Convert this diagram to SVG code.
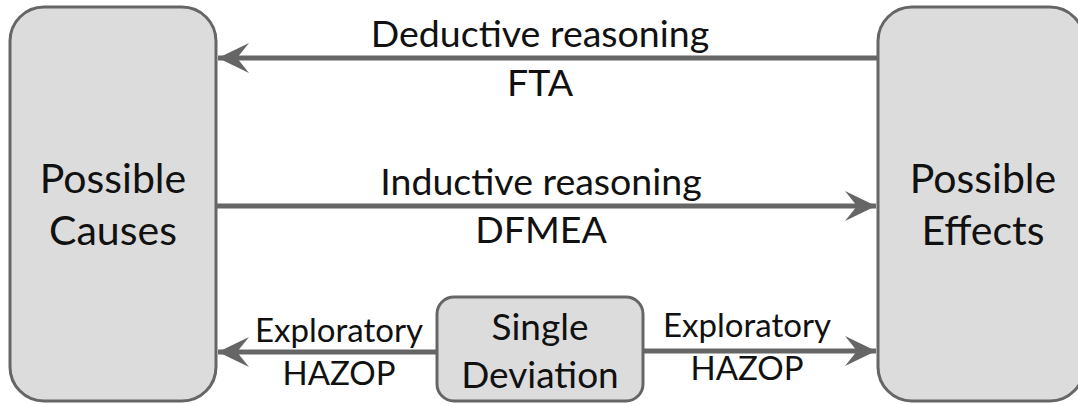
<svg xmlns="http://www.w3.org/2000/svg" width="1078" height="404" viewBox="0 0 1078 404">
  <style>
    .box { fill: #dcdcdc; stroke: #666666; stroke-width: 3; }
    .lbl { font-family: Lato, "Open Sans", "Liberation Sans", sans-serif; fill: #111111; text-anchor: middle; }
    .big { font-size: 41px; }
    .dev { font-size: 37px; }
    .mid { font-size: 37.5px; }
    .sm { font-size: 33px; }
    .edge { stroke: #666666; stroke-width: 5; fill: none; }
  </style>
  <defs>
    <marker id="head" markerUnits="userSpaceOnUse" markerWidth="34" markerHeight="34" viewBox="-32 -17 34 34" refX="0" refY="0" orient="auto">
      <path d="M0,0 L-31,-15 L-19,0 L-31,15 Z" fill="#666666"/>
    </marker>
  </defs>

  <!-- nodes -->
  <g id="causes">
    <rect class="box" x="10" y="7" width="206" height="394" rx="34"/>
    <text class="lbl big" x="113" y="193">Possible</text>
    <text class="lbl big" x="113" y="245">Causes</text>
  </g>
  <g id="effects">
    <rect class="box" x="878" y="7" width="206" height="394" rx="34"/>
    <text class="lbl big" x="983" y="193">Possible</text>
    <text class="lbl big" x="983" y="245">Effects</text>
  </g>
  <g id="deviation">
    <rect class="box" x="437" y="297" width="206" height="104" rx="17"/>
    <text class="lbl dev" x="540" y="340">Single</text>
    <text class="lbl dev" x="540" y="388">Deviation</text>
  </g>

  <!-- connectors -->
  <g id="connectors">
    <line class="edge" x1="878" y1="58" x2="218" y2="58" marker-end="url(#head)"/>
    <line class="edge" x1="216" y1="206" x2="876" y2="206" marker-end="url(#head)"/>
    <line class="edge" x1="437" y1="352" x2="218" y2="352" marker-end="url(#head)"/>
    <line class="edge" x1="643" y1="351" x2="876" y2="351" marker-end="url(#head)"/>
  </g>

  <!-- connector labels -->
  <g id="labels">
    <text class="lbl mid" x="540" y="47">Deductive reasoning</text>
    <text class="lbl mid" x="540" y="96">FTA</text>
    <text class="lbl mid" x="541" y="195">Inductive reasoning</text>
    <text class="lbl mid" x="541" y="243">DFMEA</text>
    <text class="lbl sm" x="339" y="342">Exploratory</text>
    <text class="lbl sm" x="339" y="385">HAZOP</text>
    <text class="lbl sm" x="747" y="337">Exploratory</text>
    <text class="lbl sm" x="747" y="380">HAZOP</text>
  </g>
</svg>
